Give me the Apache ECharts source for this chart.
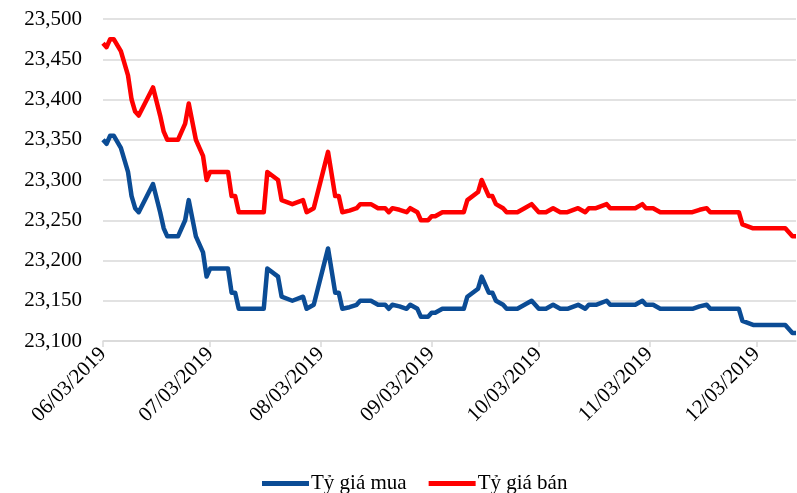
<html>
<head>
    <meta charset="utf-8">
    <title>Tỷ giá</title>
    <script src="https://cdn.jsdelivr.net/npm/echarts@6/dist/echarts.min.js"></script>
    <style>
        html, body { margin: 0; padding: 0; background: #fff; }
        #main { width: 797px; height: 493px; }
    </style>
</head>
<body>
    <div id="main"></div>
    <script>
        // data
        var dates = ['06/03/2019', '06/04/2019', '06/05/2019', '06/06/2019', '06/08/2019', '06/10/2019', '06/11/2019', '06/12/2019',
            '06/13/2019', '06/17/2019', '06/19/2019', '06/20/2019', '06/21/2019', '06/24/2019', '06/26/2019', '06/27/2019',
            '06/29/2019', '06/30/2019', '07/01/2019', '07/02/2019', '07/03/2019', '07/08/2019', '07/09/2019', '07/10/2019',
            '07/11/2019', '07/18/2019', '07/19/2019', '07/22/2019', '07/23/2019', '07/26/2019', '07/29/2019', '07/30/2019',
            '08/01/2019', '08/05/2019', '08/07/2019', '08/08/2019', '08/09/2019', '08/11/2019', '08/13/2019', '08/14/2019',
            '08/17/2019', '08/19/2019', '08/21/2019', '08/22/2019', '08/23/2019', '08/25/2019', '08/27/2019', '08/28/2019',
            '08/30/2019', '08/31/2019', '09/02/2019', '09/03/2019', '09/04/2019', '09/06/2019', '09/12/2019', '09/13/2019',
            '09/16/2019', '09/17/2019', '09/19/2019', '09/20/2019', '09/21/2019', '09/23/2019', '09/24/2019', '09/27/2019',
            '09/29/2019', '10/01/2019', '10/03/2019', '10/05/2019', '10/07/2019', '10/09/2019', '10/11/2019', '10/14/2019',
            '10/16/2019', '10/17/2019', '10/19/2019', '10/22/2019', '10/23/2019', '10/30/2019', '11/01/2019', '11/02/2019',
            '11/04/2019', '11/06/2019', '11/15/2019', '11/17/2019', '11/19/2019', '11/20/2019', '11/28/2019', '11/29/2019',
            '12/02/2019', '12/11/2019', '12/13/2019', '12/14/2019']
        var giaBan = [23470, 23465, 23475, 23475, 23460, 23430, 23400, 23385,
            23380, 23415, 23380, 23360, 23350, 23350, 23370, 23395,
            23350, 23340, 23330, 23300, 23310, 23310, 23280, 23280,
            23260, 23260, 23310, 23300, 23275, 23270, 23275, 23260,
            23265, 23335, 23280, 23280, 23260, 23262, 23265, 23270,
            23270, 23265, 23265, 23260, 23265, 23263, 23260, 23265,
            23260, 23250, 23250, 23255, 23255, 23260, 23260, 23275,
            23285, 23300, 23280, 23280, 23270, 23265, 23260, 23260,
            23265, 23270, 23260, 23260, 23265, 23260, 23260, 23265,
            23260, 23265, 23265, 23270, 23265, 23265, 23270, 23265,
            23265, 23260, 23260, 23263, 23265, 23260, 23260, 23245,
            23240, 23240, 23230, 23230]
        var giaMua = [23350, 23345, 23355, 23355, 23340, 23310, 23280, 23265,
            23260, 23295, 23260, 23240, 23230, 23230, 23250, 23275,
            23230, 23220, 23210, 23180, 23190, 23190, 23160, 23160,
            23140, 23140, 23190, 23180, 23155, 23150, 23155, 23140,
            23145, 23215, 23160, 23160, 23140, 23142, 23145, 23150,
            23150, 23145, 23145, 23140, 23145, 23143, 23140, 23145,
            23140, 23130, 23130, 23135, 23135, 23140, 23140, 23155,
            23165, 23180, 23160, 23160, 23150, 23145, 23140, 23140,
            23145, 23150, 23140, 23140, 23145, 23140, 23140, 23145,
            23140, 23145, 23145, 23150, 23145, 23145, 23150, 23145,
            23145, 23140, 23140, 23143, 23145, 23140, 23140, 23125,
            23120, 23120, 23110, 23110]
        var tickLabels = ['06/03/2019', '07/03/2019', '08/03/2019', '09/03/2019', '10/03/2019', '11/03/2019', '12/03/2019']

        // calendar days on the axis
        var days = []
        function pad(n) { return (n < 10 ? '0' : '') + n }
        for (var d = new Date(2019, 5, 3); d <= new Date(2019, 11, 14); d.setDate(d.getDate() + 1))
            days.push(`${pad(d.getMonth() + 1)}/${pad(d.getDate())}/${d.getFullYear()}`)

        var isTick = (i, v) => tickLabels.indexOf(v) >= 0
        var font = 'Liberation Serif'

        var chart = echarts.init(document.getElementById('main'))
        chart.setOption({
            animation: false,
            backgroundColor: '#fff',
            grid: { left: 103, right: 1, top: 19, bottom: 152 },
            legend: {
                left: 257, top: 468,
                icon: 'rect', itemWidth: 47, itemHeight: 5, itemGap: 22,
                textStyle: { fontFamily: font, fontSize: 21, color: '#000', padding: [0, 0, 0, -3] },
                data: ['Tỷ giá mua', 'Tỷ giá bán']
            },
            xAxis: {
                type: 'category',
                data: days,
                boundaryGap: false,
                axisLine: { lineStyle: { color: '#d9d9d9', width: 1.5 } },
                axisTick: { interval: isTick, length: 6, lineStyle: { color: '#d9d9d9', width: 1.5 } },
                axisLabel: {
                    interval: isTick, rotate: 45, margin: 10,
                    fontFamily: font, fontSize: 21, color: '#000'
                },
                splitLine: { show: false }
            },
            yAxis: {
                type: 'value',
                min: 23100, max: 23500, interval: 50,
                axisLine: { show: false },
                axisTick: { show: false },
                axisLabel: {
                    margin: 21, fontFamily: font, fontSize: 21, color: '#000',
                    formatter: v => v.toLocaleString('en-US')
                },
                splitLine: { lineStyle: { color: '#d9d9d9', width: 1.5 } }
            },
            series: [{
                name: 'Tỷ giá mua',
                type: 'line',
                color: '#0B4C95',
                showSymbol: false,
                lineStyle: { width: 4.5, join: 'round' },
                data: dates.map((d, i) => [d, giaMua[i]])
            }, {
                name: 'Tỷ giá bán',
                type: 'line',
                color: '#FF0000',
                showSymbol: false,
                lineStyle: { width: 4.5, join: 'round' },
                data: dates.map((d, i) => [d, giaBan[i]])
            }]
        })
    </script>
</body>
</html>
